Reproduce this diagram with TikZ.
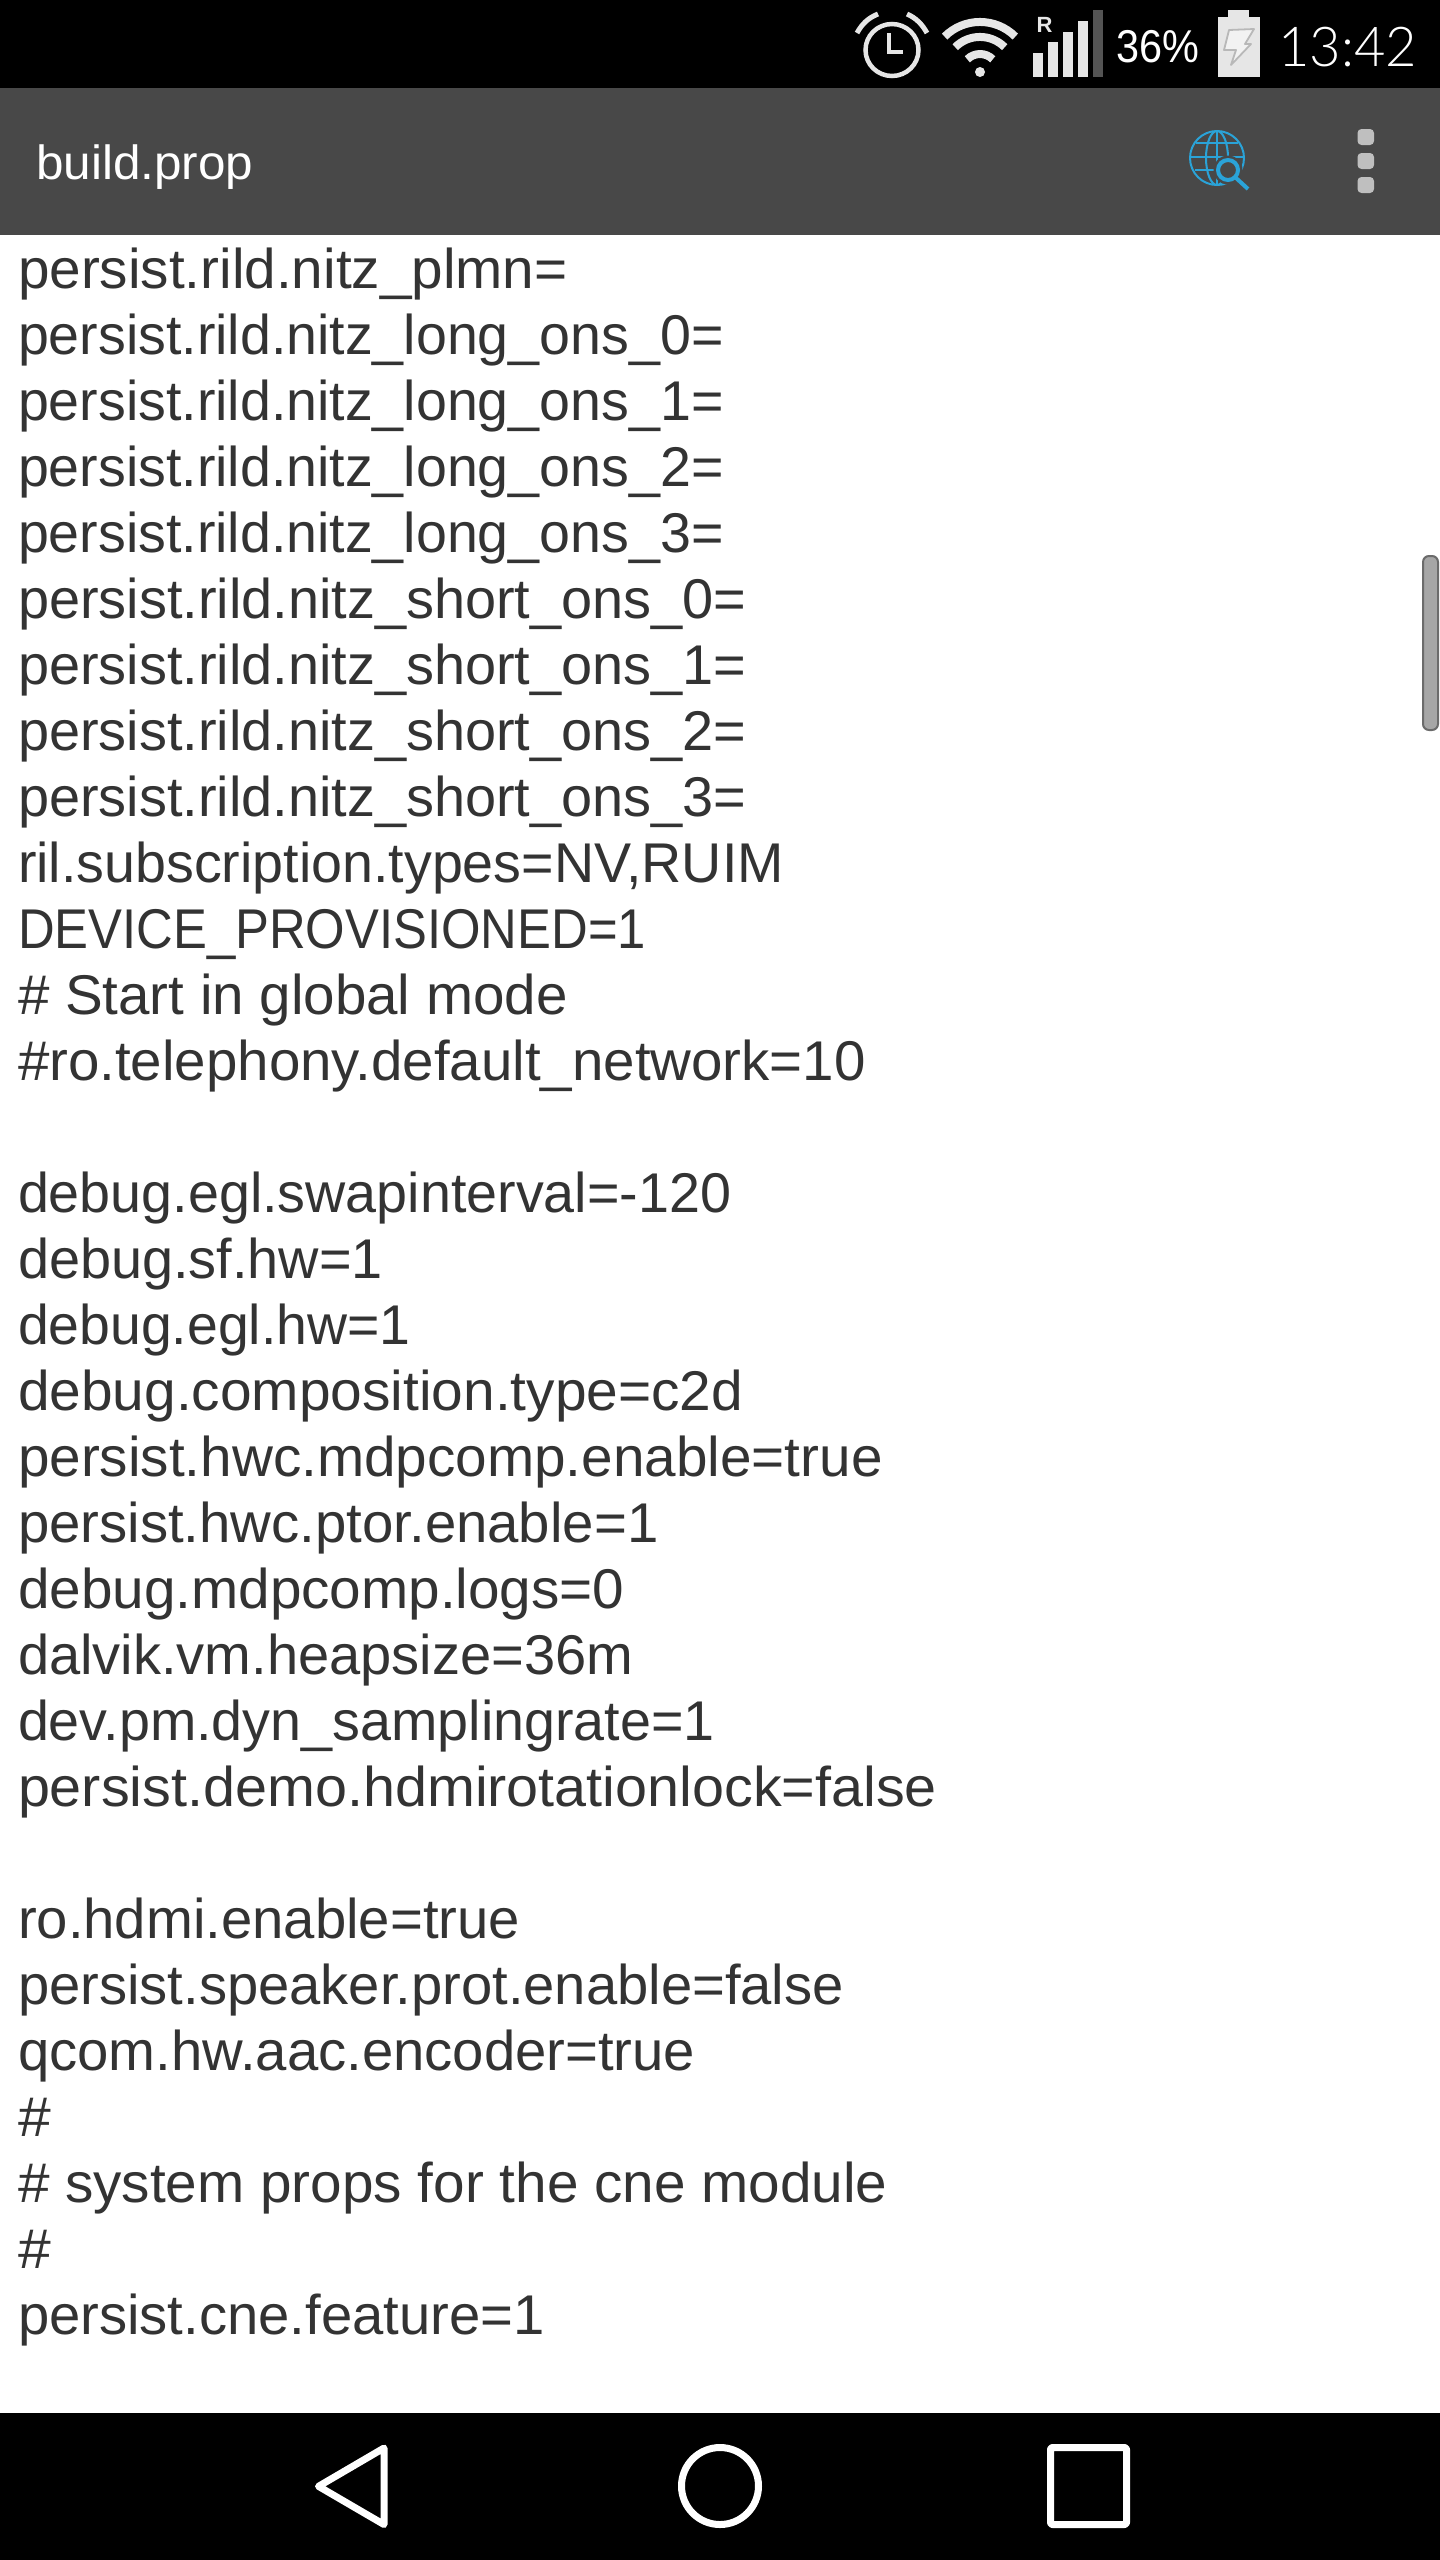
\documentclass[tikz,border=0pt]{standalone}
\usepackage{fontspec}
\usetikzlibrary{calc}
\setmainfont{Liberation Sans}
\newfontfamily\lightfont{Lato Light}
\definecolor{barcol}{HTML}{484848}
\definecolor{iconcol}{HTML}{E6E6E6}
\definecolor{textcol}{HTML}{333333}
\definecolor{globecol}{HTML}{2AA3D8}
\newcommand{\codesz}{\fontsize{56}{66}\selectfont}
\tikzset{
  codeline/.style={anchor=base west,inner sep=0pt,outer sep=0pt,text=textcol,font=\codesz},
  navicon/.style={draw=white,line width=7pt,line join=round},
  globeline/.style={draw=globecol,line width=2pt},
}
\newcommand{\cl}[4]{\node[codeline] (#1) at (18,{288+66*#2}) {\scalebox{#4}[1]{#3}};}
\begin{document}
\begin{tikzpicture}[x=1pt,y=-1pt]
\useasboundingbox (0,0) rectangle (1440,2560);
\fill[white] (0,0) rectangle (1440,2560);
\fill[black] (0,0) rectangle (1440,88);
\fill[barcol] (0,88) rectangle (1440,235);
\fill[black] (0,2412.5) rectangle (1440,2560);
% status bar: alarm
\draw[iconcol,line width=4.5pt] (892,50) circle[x radius=26.5pt,y radius=26pt];
\draw[iconcol,line width=4.5pt] (889,33) -- (889,52) -- (903,52);
\draw[iconcol,line width=5pt] (857,33) .. controls (862,24) and (868,18) .. (878,14);
\draw[iconcol,line width=5pt] (907,14) .. controls (916,18) and (922,24) .. (927,33);
% wifi
\fill[iconcol] (980,72) circle[radius=5pt];
\draw[iconcol,line width=8pt] (944.6,36.6) arc[start angle=135,end angle=45,radius=50pt];
\draw[iconcol,line width=8pt] (955.2,47.2) arc[start angle=135,end angle=45,radius=35pt];
\draw[iconcol,line width=8pt] (967.3,59.3) arc[start angle=135,end angle=45,radius=18pt];
% signal
\node[inner sep=0pt,text=iconcol,anchor=base] (roam) at (1044.5,32) {\fontsize{22}{22}\selectfont\bfseries R};
\fill[iconcol] (1033,53) rectangle (1043,76.7);
\fill[iconcol] (1048,42) rectangle (1058,76.7);
\fill[iconcol] (1063,32) rectangle (1073,76.7);
\fill[iconcol] (1078,21) rectangle (1088,76.7);
\fill[black!67!white] (1093,10) rectangle (1103,76.7);
\node[inner sep=0pt,text=white,anchor=base west] (pct) at (1116,62) {\fontsize{46}{46}\selectfont\scalebox{0.9}[1]{36\%}};
% battery
\fill[iconcol] (1218,17) rectangle (1260,77);
\fill[iconcol] (1228,10) rectangle (1249,17);
\draw[fill=white!95!black,draw=black!28,line width=1.8pt,line join=round]
 (1229,30) -- (1254,29) -- (1245,44) -- (1251,44) -- (1231,65) -- (1236,50) -- (1224,50) -- cycle;
\node[inner sep=0pt,text=white,anchor=base west] (clock) at (1278,66) {\lightfont\fontsize{55}{55}\selectfont\scalebox{0.985}[1]{13:42}};
% toolbar
\node[inner sep=0pt,text=white,anchor=base west] (title) at (36,179) {\fontsize{48}{48}\selectfont\scalebox{1.03}[1]{build.prop}};
% globe
\draw[globeline] (1217,158) circle[radius=27pt];
\draw[globeline] (1217,158) circle[x radius=11pt,y radius=27pt];
\draw[globeline] (1217,131) -- (1217,185);
\draw[globeline] (1196,143) -- (1238,143);
\draw[globeline] (1190,157) -- (1244,157);
\draw[globeline] (1195,170) -- (1239,170);
\fill[barcol] (1228,170) circle[radius=14.5pt];
\draw[globecol,line width=4pt] (1228,170) circle[radius=10pt];
\draw[globecol,line width=4pt] (1235.5,177.5) -- (1248,189);
% menu
\fill[black!25!white,rounded corners=4pt] (1357.5,129) rectangle (1374,145);
\fill[black!25!white,rounded corners=4pt] (1357.5,153) rectangle (1374,169);
\fill[black!25!white,rounded corners=4pt] (1357.5,177) rectangle (1374,193);
% scroll bar
\draw[fill=black!35!white,draw=black!58!white,line width=2pt,rounded corners=6pt] (1423,556) rectangle (1438,730);
% text
\cl{l0}{0}{persist.rild.nitz\_plmn=}{1.012}
\cl{l1}{1}{persist.rild.nitz\_long\_ons\_0=}{0.992}
\cl{l2}{2}{persist.rild.nitz\_long\_ons\_1=}{0.992}
\cl{l3}{3}{persist.rild.nitz\_long\_ons\_2=}{0.992}
\cl{l4}{4}{persist.rild.nitz\_long\_ons\_3=}{0.992}
\cl{l5}{5}{persist.rild.nitz\_short\_ons\_0=}{0.998}
\cl{l6}{6}{persist.rild.nitz\_short\_ons\_1=}{0.998}
\cl{l7}{7}{persist.rild.nitz\_short\_ons\_2=}{0.998}
\cl{l8}{8}{persist.rild.nitz\_short\_ons\_3=}{0.998}
\cl{l9}{9}{ril.subscription.types=NV,RUIM}{0.993}
\cl{l10}{10}{DEVICE\_PROVISIONED=1}{0.907}
\cl{l11}{11}{\# Start in global mode}{1.009}
\cl{l12}{12}{\#ro.telephony.default\_network=10}{1.008}
\cl{l14}{14}{debug.egl.swapinterval=-120}{0.994}
\cl{l15}{15}{debug.sf.hw=1}{0.998}
\cl{l16}{16}{debug.egl.hw=1}{0.989}
\cl{l17}{17}{debug.composition.type=c2d}{1.015}
\cl{l18}{18}{persist.hwc.mdpcomp.enable=true}{1.012}
\cl{l19}{19}{persist.hwc.ptor.enable=1}{1.006}
\cl{l20}{20}{debug.mdpcomp.logs=0}{1.012}
\cl{l21}{21}{dalvik.vm.heapsize=36m}{1.001}
\cl{l22}{22}{dev.pm.dyn\_samplingrate=1}{0.994}
\cl{l23}{23}{persist.demo.hdmirotationlock=false}{1.027}
\cl{l25}{25}{ro.hdmi.enable=true}{1.005}
\cl{l26}{26}{persist.speaker.prot.enable=false}{1.003}
\cl{l27}{27}{qcom.hw.aac.encoder=true}{1.005}
\cl{l28}{28}{\#}{1.05}
\cl{l29}{29}{\# system props for the cne module}{1.012}
\cl{l30}{30}{\#}{1.05}
\cl{l31}{31}{persist.cne.feature=1}{1.004}
% nav bar
\draw[navicon] (384,2448) -- (384,2524.5) -- (318.5,2486.3) -- cycle;
\draw[navicon] (720,2486) circle[radius=38.5pt];
\draw[navicon,rounded corners=2pt] (1050.5,2447.5) rectangle (1126.5,2524.5);
\end{tikzpicture}
\end{document}
